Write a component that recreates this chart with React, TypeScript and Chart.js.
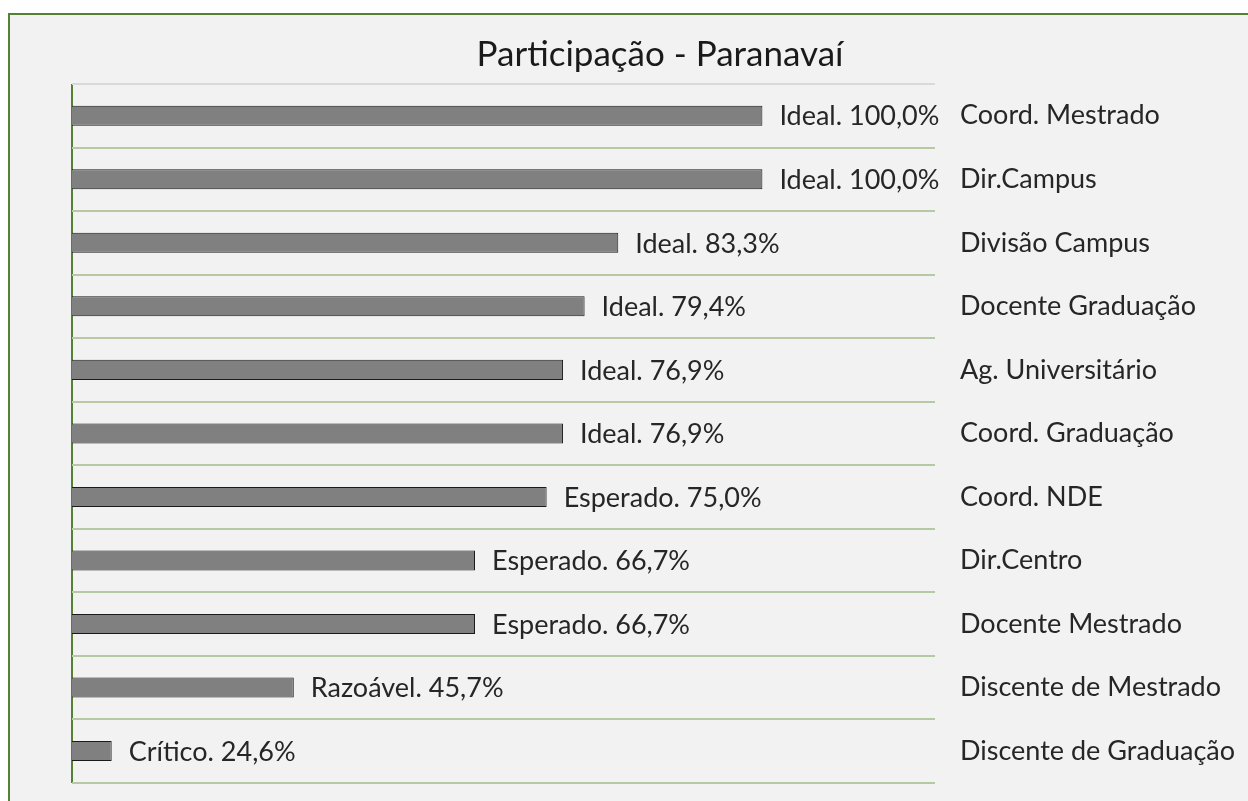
import React, { useEffect, useRef } from "react";
import { Chart, registerables } from "chart.js";

Chart.register(...registerables);

const TITLE = "Participação - Paranavaí";
const CATEGORIES = [
  "Coord. Mestrado",
  "Dir.Campus",
  "Divisão Campus",
  "Docente Graduação",
  "Ag. Universitário",
  "Coord. Graduação",
  "Coord. NDE",
  "Dir.Centro",
  "Docente Mestrado",
  "Discente de Mestrado",
  "Discente de Graduação",
];
const VALUES = [100.0, 100.0, 83.3, 79.4, 76.9, 76.9, 75.0, 66.7, 66.7, 45.7, 24.6];
const STATUS = [
  "Ideal",
  "Ideal",
  "Ideal",
  "Ideal",
  "Ideal",
  "Ideal",
  "Esperado",
  "Esperado",
  "Esperado",
  "Razoável",
  "Crítico",
];
const X_MIN = 20;
const X_MAX = 120;

const FONT_FAMILY = "Lato, 'Open Sans', sans-serif";
const FONT_SIZE = 27;
const TITLE_SIZE = 35;
const TEXT_COLOR = "#262626";

const barLabelPlugin = {
  id: "barLabels",
  afterDatasetsDraw(chart: any) {
    const ctx = chart.ctx;
    const meta = chart.getDatasetMeta(0);
    ctx.save();
    ctx.font = `${FONT_SIZE}px ${FONT_FAMILY}`;
    ctx.fillStyle = TEXT_COLOR;
    ctx.textAlign = "left";
    ctx.textBaseline = "middle";
    meta.data.forEach((bar: any, i: number) => {
      const v = VALUES[i].toFixed(1).replace(".", ",");
      ctx.fillText(`${STATUS[i]}. ${v}%`, bar.x + 17, bar.y + 1);
    });
    ctx.restore();
  },
};

export default function App() {
  const canvasRef = useRef<HTMLCanvasElement | null>(null);

  useEffect(() => {
    const canvas = canvasRef.current;
    if (!canvas) return;
    const chart = new Chart(canvas, {
      type: "bar",
      data: {
        labels: CATEGORIES,
        datasets: [
          {
            data: VALUES,
            backgroundColor: "#808080",
            borderColor: "#1a1a1a",
            borderWidth: 1,
            borderSkipped: false,
            barPercentage: 0.315,
            categoryPercentage: 1,
          },
        ],
      },
      options: {
        indexAxis: "y",
        responsive: false,
        animation: false,
        layout: { padding: { left: 62, right: 0, top: 0, bottom: 0 } },
        plugins: {
          legend: { display: false },
          tooltip: { enabled: false },
          title: {
            display: true,
            text: TITLE,
            color: "#1a1a1a",
            font: { family: FONT_FAMILY, size: TITLE_SIZE, weight: "normal" },
            padding: { top: 19, bottom: 8 },
          },
        },
        scales: {
          x: {
            min: X_MIN,
            max: X_MAX,
            ticks: { display: false, stepSize: 100 },
            border: { display: false },
            grid: {
              drawTicks: false,
              lineWidth: 2,
              color: (c: any) => (c.index === 0 ? "#548235" : "rgba(0,0,0,0)"),
            },
            afterFit: (s: any) => {
              s.height = 0;
            },
          },
          y: {
            position: "right",
            offset: true,
            border: { display: false },
            grid: {
              offset: true,
              drawTicks: false,
              lineWidth: 2,
              color: (c: any) => (c.index === 0 ? "#d9d9d9" : "#b6c9a2"),
            },
            ticks: {
              color: TEXT_COLOR,
              padding: 25,
              font: { family: FONT_FAMILY, size: FONT_SIZE },
            },
            afterFit: (s: any) => {
              s.width = 313;
            },
          },
        },
      },
      plugins: [barLabelPlugin],
    });
    return () => chart.destroy();
  }, []);

  return (
    <div
      style={{
        position: "fixed",
        left: 8,
        top: 13,
        width: 1240,
        height: 788,
        boxSizing: "border-box",
        borderLeft: "2px solid #548235",
        borderTop: "2px solid #548235",
        background: "#f2f2f2",
        overflow: "hidden",
      }}
    >
      <canvas ref={canvasRef} width={1238} height={809} style={{ display: "block" }} />
    </div>
  );
}
